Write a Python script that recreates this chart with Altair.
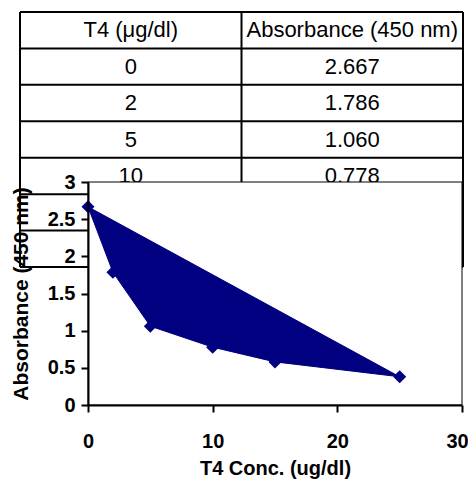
import altair as alt
import pandas as pd

# ---- data ----
t4 = [0, 2, 5, 10, 15, 25]
absorbance = [2.667, 1.786, 1.060, 0.778, 0.580, 0.380]
absorbance_text = ["2.667", "1.786", "1.060", "0.778", "0.580", "0.380"]
table_header = ["T4 (\u03bcg/dl)", "Absorbance (450 nm)"]
x_ticks = [0, 10, 20, 30]
y_ticks = [0, 0.5, 1, 1.5, 2, 2.5, 3]
x_title = "T4 Conc. (ug/dl)"
y_title = "Absorbance (450 nm)"

# ---- layout ----
W, H = 374, 223
PAD_L, PAD_T, PAD_R, PAD_B = 80, 174, 6, 74
NAVY = "#000080"
FONT = "Liberation Sans"

# table placement (page pixels) -> table scale domains
TBL_LEFT, TBL_RIGHT, TBL_TOP, ROW_H = 20, 463, 12, 36.43
plot_x0 = 8 + PAD_L
plot_y0 = 8 + PAD_T
col_w = (TBL_RIGHT - TBL_LEFT) / 2
tx_dom = [(plot_x0 - TBL_LEFT) / col_w, (plot_x0 + W - TBL_LEFT) / col_w]
ty_dom = [(plot_y0 - TBL_TOP) / ROW_H, (plot_y0 + H - TBL_TOP) / ROW_H]
tx_scale = alt.Scale(domain=tx_dom, nice=False, zero=False)
ty_scale = alt.Scale(domain=ty_dom, nice=False, zero=False, reverse=True)

n_rows = len(t4) + 1
cells = []
for c, txt in enumerate(table_header):
    cells.append({"cx": c + 0.5, "cy": 0.5, "text": txt})
for r, (a, b) in enumerate(zip(t4, absorbance_text), start=1):
    cells.append({"cx": 0.5, "cy": r + 0.5, "text": str(a)})
    cells.append({"cx": 1.5, "cy": r + 0.5, "text": b})
cells_df = pd.DataFrame(cells)

hlines = pd.DataFrame({"x0": [0] * (n_rows + 1), "x1": [2] * (n_rows + 1),
                       "y": list(range(n_rows + 1))})
vlines = pd.DataFrame({"x": [0, 1, 2], "y0": [0, 0, 0], "y1": [n_rows] * 3})

h_rules = alt.Chart(hlines).mark_rule(color="black", strokeWidth=2).encode(
    x=alt.X("x0:Q", scale=tx_scale, axis=None),
    x2="x1:Q",
    y=alt.Y("y:Q", scale=ty_scale, axis=None),
)
v_rules = alt.Chart(vlines).mark_rule(color="black", strokeWidth=2).encode(
    x=alt.X("x:Q", scale=tx_scale, axis=None),
    y=alt.Y("y0:Q", scale=ty_scale, axis=None),
    y2="y1:Q",
)
cell_text = alt.Chart(cells_df).mark_text(
    font=FONT, fontSize=22, color="black", baseline="middle", align="center"
).encode(
    x=alt.X("cx:Q", scale=tx_scale, axis=None),
    y=alt.Y("cy:Q", scale=ty_scale, axis=None),
    text="text:N",
)
table = alt.layer(h_rules, v_rules, cell_text)

# ---- plot ----
df = pd.DataFrame({"t4": t4, "abs": absorbance})

frame = alt.Chart(pd.DataFrame({"k": [0]})).mark_rect(
    fill="white", stroke="black", strokeWidth=1
).encode(x=alt.value(0), x2=alt.value(W), y=alt.value(0), y2=alt.value(H))

xs = alt.Scale(domain=[0, 30], nice=False, zero=False)
ys = alt.Scale(domain=[0, 3], nice=False, zero=False)

x_axis = alt.Axis(values=x_ticks, labelPadding=19, titlePadding=7,
                  titleFontSize=20, labelFlush=False, zindex=1,
                  labelOffset=alt.condition("datum.value == 30", alt.value(-5), alt.value(0)))
y_axis = alt.Axis(values=y_ticks, labelPadding=6, titlePadding=16,
                  titleFontSize=21, labelFlush=False, zindex=1,
                  labelExpr="datum.value")

poly = alt.Chart(df).mark_line(
    interpolate="linear-closed", color=NAVY, fill=NAVY, strokeWidth=1
).encode(
    x=alt.X("t4:Q", scale=xs, title=x_title, axis=x_axis),
    y=alt.Y("abs:Q", scale=ys, title=y_title, axis=y_axis),
)

points = alt.Chart(df).mark_point(
    shape="diamond", filled=True, color=NAVY, size=170, opacity=1
).encode(
    x=alt.X("t4:Q", scale=xs, title=x_title, axis=x_axis),
    y=alt.Y("abs:Q", scale=ys, title=y_title, axis=y_axis),
)

plot = alt.layer(frame, poly, points)

chart = alt.layer(table, plot).resolve_scale(
    x="independent", y="independent"
).properties(
    width=W, height=H,
    autosize=alt.AutoSizeParams(type="none"),
    padding={"left": PAD_L, "top": PAD_T, "right": PAD_R, "bottom": PAD_B},
    background="white",
).configure_view(stroke=None).configure_axis(
    grid=False, domainColor="black", domainWidth=2,
    tickColor="black", tickWidth=2, tickSize=7,
    labelFont=FONT, labelFontWeight="bold", labelFontSize=20, labelColor="black",
    labelOverlap=False, labelBound=False,
    titleFont=FONT, titleFontWeight="bold", titleColor="black",
)

chart.save("out.html", embed_options={"renderer": "svg", "actions": False})
